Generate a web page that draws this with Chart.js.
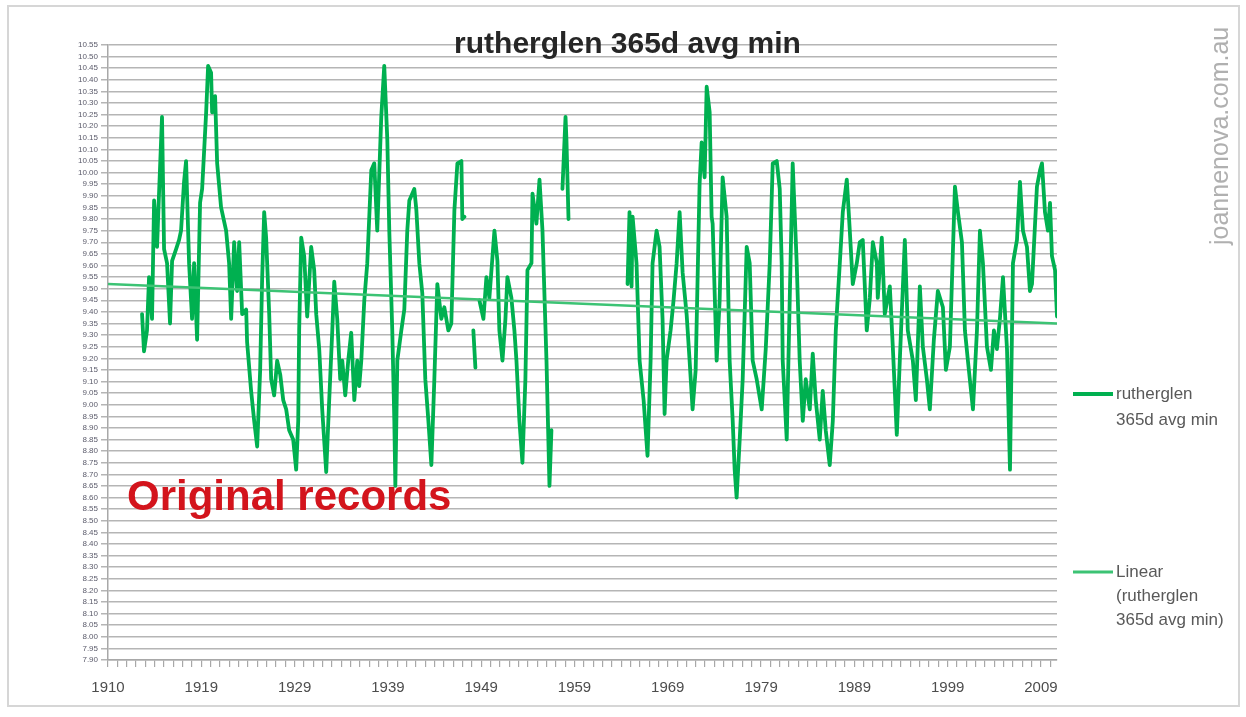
<!DOCTYPE html>
<html><head><meta charset="utf-8">
<script src="https://cdn.jsdelivr.net/npm/chart.js@4.4.1/dist/chart.umd.min.js"></script>
<style>
html,body{margin:0;padding:0;background:#fff;}
#wrap{position:relative;width:1246px;height:717px;overflow:hidden;background:#fff;}
#frame{position:absolute;left:7px;top:5px;width:1233px;height:702px;border:2px solid #d6d6d6;box-sizing:border-box;}
canvas{position:absolute;left:0;top:0;}
</style></head><body>
<div id="wrap"><div id="frame"></div><canvas id="c" width="1246" height="717"></canvas></div>
<script>
// ---- data (decimal year, 365-day average minimum temperature) ----
const years = [
1913.65,1913.86,1914.18,1914.40,1914.72,1914.94,1915.26,1915.47,1915.79,1916.01,1916.33,1916.65,1916.87,1917.30,1917.62,1917.83,1918.15,1918.37,1918.69,1919.01,
1919.23,1919.55,1919.87,1920.09,1920.52,1920.73,1921.05,1921.16,1921.48,1921.70,1922.12,1922.66,1922.98,1923.20,1923.52,1923.84,1924.06,1924.38,1924.81,1924.91,
1925.34,1925.67,1925.99,1926.31,1926.52,1926.74,1926.95,1927.06,1927.28,1927.49,1927.81,1928.13,1928.46,1928.78,1929.10,1929.42,1929.85,1930.17,1930.39,1930.49,
1930.71,1931.03,1931.35,1931.78,1932.10,1932.32,1932.64,1932.96,1933.39,1933.71,1934.04,1934.25,1934.57,1934.89,1935.11,1935.43,1935.75,1936.07,1936.40,1936.72,
1936.93,1937.15,1937.47,1937.79,1938.22,1938.54,1938.86,1939.29,1939.61,1939.94,1940.15,1940.47,1940.69,1940.80,1941.01,1941.44,1941.76,1942.08,1942.30,1942.83,
1943.05,1943.37,1943.69,1944.01,1944.34,1944.66,1944.98,1945.30,1945.73,1946.05,1946.48,1946.80,1947.13,1947.45,1947.88,1947.98,1948.20,
1948.70,
1949.16,1949.38,
1949.60,
1949.81,1950.24,1950.56,1950.88,1951.42,1951.74,1951.95,1952.28,1952.60,1952.81,1953.24,1953.56,1953.78,1954.10,1954.42,1954.74,1954.96,1955.39,1955.50,1955.92,
1956.25,1956.57,1957.00,1957.32,1957.53,
1958.00,
1958.71,1959.04,1959.14,1959.36,
1960.00,
1965.69,1965.90,1966.12,1966.23,1966.65,1966.98,1967.41,1967.83,1968.16,1968.37,1968.80,1969.12,1969.44,1969.66,1969.87,1970.30,1970.62,1970.95,1971.27,1971.59,
1972.02,1972.34,1972.66,1972.99,1973.41,1973.63,1973.95,1974.17,1974.49,1974.70,1974.81,1975.24,1975.56,1975.88,1976.31,1976.63,1976.96,1977.17,1977.38,1977.71,
1978.03,1978.46,1978.78,1979.10,1979.53,1980.07,1980.50,1980.93,1981.25,1981.68,1982.00,1982.21,1982.32,1982.75,1983.07,1983.39,1983.82,1984.14,1984.47,1984.79,
1985.22,1985.54,1985.86,1986.29,1986.61,1986.93,1987.36,1987.69,1988.01,1988.44,1988.76,1989.19,1989.51,1989.83,1990.26,1990.58,1990.90,1991.33,1991.66,1991.98,
1992.41,1992.51,1992.94,1993.26,1993.80,1994.12,1994.55,1994.87,1995.41,1995.73,1996.27,1996.59,1997.02,1997.34,1997.77,1998.09,1998.52,1998.95,1999.49,1999.81,
2000.24,2000.78,2001.10,2001.53,2001.85,2002.17,2002.71,2003.14,2003.46,2003.78,2004.21,2004.64,2004.96,2005.28,2005.60,2005.93,2006.36,2006.68,2007.00,2007.43,
2007.75,2008.07,2008.50,2008.82,2009.04,2009.57,2009.90,2010.11,2010.43,2010.75,2010.97,2011.18,2011.51,2011.72
];
const temps = [
9.39,9.23,9.32,9.55,9.37,9.88,9.68,9.91,10.24,9.67,9.61,9.35,9.62,9.67,9.71,9.75,9.96,10.05,9.61,9.37,
9.61,9.28,9.87,9.93,10.26,10.46,10.43,10.26,10.33,10.04,9.85,9.75,9.61,9.37,9.70,9.49,9.70,9.39,9.41,9.27,
9.06,8.93,8.82,9.15,9.54,9.83,9.72,9.61,9.39,9.11,9.04,9.19,9.13,9.02,8.98,8.89,8.85,8.72,8.93,9.32,
9.72,9.64,9.38,9.68,9.58,9.39,9.24,8.98,8.71,9.02,9.32,9.53,9.37,9.11,9.19,9.04,9.19,9.31,9.02,9.19,
9.08,9.19,9.45,9.61,10.01,10.04,9.75,10.24,10.46,10.14,9.75,9.32,8.93,8.65,9.19,9.32,9.41,9.75,9.88,9.93,
9.84,9.61,9.48,9.11,8.93,8.74,9.11,9.52,9.37,9.42,9.32,9.35,9.84,10.04,10.05,9.80,9.81,
null,
9.32,9.16,
null,
9.45,9.37,9.55,9.46,9.75,9.62,9.32,9.19,9.37,9.55,9.46,9.32,9.19,8.93,8.75,9.11,9.58,9.61,9.91,9.78,
9.97,9.75,9.19,8.65,8.89,
null,
9.93,10.24,10.14,9.80,
null,
9.52,9.83,9.51,9.81,9.61,9.19,9.02,8.78,9.19,9.61,9.75,9.68,9.37,8.96,9.19,9.32,9.45,9.61,9.83,9.57,
9.39,9.19,8.98,9.15,9.95,10.13,9.98,10.37,10.26,9.81,9.78,9.19,9.45,9.98,9.81,9.19,8.93,8.72,8.60,8.85,
9.11,9.68,9.61,9.19,9.11,8.98,9.24,9.61,10.04,10.05,9.93,9.61,9.19,8.85,9.45,10.04,9.61,9.19,8.93,9.11,
8.98,9.22,9.02,8.85,9.06,8.89,8.74,8.93,9.32,9.61,9.83,9.97,9.75,9.52,9.61,9.70,9.71,9.32,9.46,9.70,
9.61,9.46,9.72,9.39,9.51,9.25,8.87,9.19,9.71,9.32,9.19,9.02,9.51,9.25,9.11,8.98,9.28,9.49,9.42,9.15,
9.25,9.94,9.83,9.70,9.32,9.19,8.98,9.32,9.75,9.61,9.25,9.15,9.32,9.24,9.37,9.55,9.24,8.72,9.61,9.71,
9.96,9.75,9.68,9.49,9.52,9.94,10.01,10.04,9.83,9.75,9.87,9.64,9.58,9.38
];
const trendYears = [1910.0, 2011.72];
const trendTemps = [9.52, 9.35];

const xTickYears  = [1910,1920,1930,1940,1950,1960,1970,1980,1990,2000,2010];
const xTickLabels = ['1910','1919','1929','1939','1949','1959','1969','1979','1989','1999','2009'];
const xMinorYears = [1910,1911,1912,1913,1914,1915,1916,1917,1918,1919,1920,1921,1922,1923,1924,1925,1926,1927,1928,1929,
 1930,1931,1932,1933,1934,1935,1936,1937,1938,1939,1940,1941,1942,1943,1944,1945,1946,1947,1948,1949,
 1950,1951,1952,1953,1954,1955,1956,1957,1958,1959,1960,1961,1962,1963,1964,1965,1966,1967,1968,1969,
 1970,1971,1972,1973,1974,1975,1976,1977,1978,1979,1980,1981,1982,1983,1984,1985,1986,1987,1988,1989,
 1990,1991,1992,1993,1994,1995,1996,1997,1998,1999,2000,2001,2002,2003,2004,2005,2006,2007,2008,2009,2010,2011];
const yTickLabels = ['7.90','7.95','8.00','8.05','8.10','8.15','8.20','8.25','8.30','8.35','8.40','8.45','8.50','8.55',
 '8.60','8.65','8.70','8.75','8.80','8.85','8.90','8.95','9.00','9.05','9.10','9.15','9.20','9.25','9.30','9.35',
 '9.40','9.45','9.50','9.55','9.60','9.65','9.70','9.75','9.80','9.85','9.90','9.95','10.00','10.05','10.10',
 '10.15','10.20','10.25','10.30','10.35','10.40','10.45','10.50','10.55'];

const seriesLabel = 'rutherglen 365d avg min';
const trendLabel = 'Linear (rutherglen 365d avg min)';
const legendLines = [['rutherglen','365d avg min'],['Linear','(rutherglen','365d avg min)']];
const titleText = 'rutherglen 365d avg min';
const noteText = 'Original records';
const watermark = 'joannenova.com.au';

const mainData = years.map((y,i)=>({x:y, y:temps[i]}));
const trendData = trendYears.map((y,i)=>({x:y, y:trendTemps[i]}));

const overlay = {
  id:'overlay',
  afterDraw(chart){
    const ctx = chart.ctx, ca = chart.chartArea;
    ctx.save();
    ctx.fillStyle = '#262626';
    ctx.font = 'bold 30px "Liberation Sans", Arial, sans-serif';
    ctx.textAlign = 'center'; ctx.textBaseline = 'alphabetic';
    ctx.fillText(titleText, (ca.left+ca.right)/2 + 45, 53);
    ctx.fillStyle = '#d3141c';
    ctx.font = 'bold 42px "Liberation Sans", Arial, sans-serif';
    ctx.textAlign = 'left';
    ctx.fillText(noteText, 127, 510);
    const ds = chart.data.datasets;
    const ys = [[394,420],[572,596,620]];
    ctx.font = '17px "Liberation Sans", Arial, sans-serif';
    ds.forEach((d,k)=>{
      ctx.strokeStyle = d.borderColor; ctx.lineWidth = k===0?4:3;
      ctx.beginPath(); ctx.moveTo(1073, ys[k][0]); ctx.lineTo(1113, ys[k][0]); ctx.stroke();
      ctx.fillStyle = '#595959'; ctx.textBaseline = 'middle'; ctx.textAlign='left';
      legendLines[k].forEach((t,j)=>ctx.fillText(t, 1116, ys[k][j]));
    });
    ctx.translate(1228, 245); ctx.rotate(-Math.PI/2);
    ctx.fillStyle = '#b0b0b0'; ctx.textBaseline = 'alphabetic'; ctx.textAlign='left';
    ctx.font = '25px "Liberation Sans", Arial, sans-serif';
    ctx.fillText(watermark, 0, 0);
    ctx.restore();
  }
};

new Chart(document.getElementById('c'), {
  type:'line',
  data:{ datasets:[
    { label:seriesLabel, data:mainData, borderColor:'#00b050', borderWidth:3.8, borderJoinStyle:'round', borderCapStyle:'round', pointRadius:0, tension:0, spanGaps:false, order:2 },
    { label:trendLabel, data:trendData, borderColor:'#3cc374', borderWidth:2.4, pointRadius:0, tension:0, order:1 }
  ]},
  options:{
    responsive:false, animation:false, devicePixelRatio:1,
    layout:{ padding:{ left:60, right:189, top:45, bottom:12 } },
    plugins:{ legend:{display:false}, title:{display:false}, tooltip:{enabled:false} },
    scales:{
      x:{ type:'linear', min:1910, max:2011.72,
        afterBuildTicks:s=>{ s.ticks = xMinorYears.map(v=>({value:v})); },
        afterFit:s=>{ s.height = 45; },
        ticks:{ autoSkip:false, maxRotation:0, minRotation:0, padding:12, color:'#4d4d4d',
          font:{ size:15, family:'"Liberation Sans", Arial, sans-serif' },
          callback:v=>{ const i = xTickYears.indexOf(v); return i>=0 ? xTickLabels[i] : ''; } },
        grid:{ drawOnChartArea:false, drawTicks:true, tickLength:7, color:'#a8a8a8', lineWidth:1.2 },
        border:{ color:'#a8a8a8', width:1.5 }
      },
      y:{ type:'linear', min:7.9, max:10.55,
        afterBuildTicks:s=>{ s.ticks = yTickLabels.map(t=>({value:parseFloat(t)})); },
        afterFit:s=>{ s.width = 48; },
        ticks:{ autoSkip:false, padding:3, color:'#5b5b6b', font:{ size:8, family:'"Liberation Sans", Arial, sans-serif' },
          callback:(v,i)=>yTickLabels[i] },
        grid:{ color:'#b5b5b5', lineWidth:1.5, tickLength:7 },
        border:{ color:'#a8a8a8', width:1.5 }
      }
    }
  },
  plugins:[overlay]
});
</script>
</body></html>
